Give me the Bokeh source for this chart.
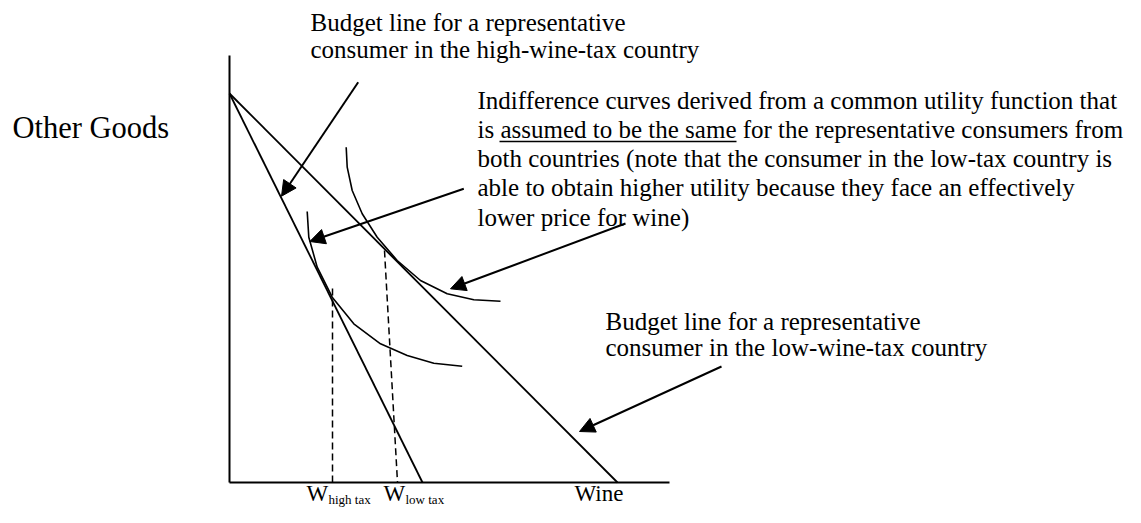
from bokeh.plotting import figure
from bokeh.models import Range1d, Arrow, NormalHead, ColumnDataSource
from bokeh.embed import file_html
from bokeh.resources import INLINE
from bokeh.core.properties import value

# ---- diagram data (units: wine on x, other goods on y; origin at the axes' corner)
goods_axis_top = 427
wine_axis_end = 440
budget_goods_intercept = 389
budget_wine_intercept_high_tax = 193
budget_wine_intercept_low_tax = 388

# indifference curve tangent to high-tax budget line
ic_low_wine = [77.7, 79.3, 87.7, 102.7, 124.3, 151.0, 177.7, 204.3, 232.7]
ic_low_goods = [271.0, 245.3, 215.3, 185.3, 158.7, 138.7, 127.0, 119.3, 116.3]
# indifference curve tangent to low-tax budget line
ic_high_wine = [116.7, 117.7, 122.7, 132.7, 147.7, 167.7, 191.0, 217.7, 244.3, 271.0]
ic_high_goods = [335.3, 315.3, 292.0, 268.7, 245.3, 222.0, 202.0, 188.7, 182.7, 181.3]

# dashed drop lines to the wine axis (top point, bottom point)
drop_x0 = [103, 155]
drop_y0 = [194, 232]
drop_x1 = [103, 168]
drop_y1 = [0, 0]

# arrows (start -> tip)
arrow_x0 = [128.7, 234.3, 396.0, 492.0]
arrow_y0 = [400.3, 293.7, 259.0, 116.0]
arrow_x1 = [52.0, 80.3, 221.0, 350.0]
arrow_y1 = [286.3, 241.0, 193.7, 51.0]

top_note = ["Budget line for a representative",
            "consumer in the high-wine-tax country"]
ic_note = ["Indifference curves derived from a common utility function that",
           "is assumed to be the same for the representative consumers from",
           "both countries (note that the consumer in the low-tax country is",
           "able to obtain higher utility because they face an effectively",
           "lower price for wine)"]
low_note = ["Budget line for a representative",
            "consumer in the low-wine-tax country"]
y_label = "Other Goods"
x_label = "Wine"
w_labels = ["W", "W"]
w_subs = ["high tax", "low tax"]

FONT = value("Liberation Serif")
MID = 0.3375  # distance from baseline to the em-box centre, in em

p = figure(width=1125, height=507, output_backend="svg", toolbar_location=None,
           x_range=Range1d(-229, 896), y_range=Range1d(-25, 482),
           x_axis_type=None, y_axis_type=None, min_border=0,
           background_fill_color="white", border_fill_color="white")
p.grid.visible = False
p.outline_line_color = None

# axes
p.line([0, 0], [0, goods_axis_top], line_color="black", line_width=2)
p.line([0, wine_axis_end], [0, 0], line_color="black", line_width=2)

# budget lines
p.line([0, budget_wine_intercept_high_tax], [budget_goods_intercept, 0],
       line_color="black", line_width=1.8)
p.line([0, budget_wine_intercept_low_tax], [budget_goods_intercept, 0],
       line_color="black", line_width=1.8)

# indifference curves
p.line(ic_low_wine, ic_low_goods, line_color="black", line_width=1.6)
p.line(ic_high_wine, ic_high_goods, line_color="black", line_width=1.6)

# dashed drop lines
p.segment(drop_x0, drop_y0, drop_x1, drop_y1, line_color="black",
          line_width=1.5, line_dash="7 4")

# arrows
asrc = ColumnDataSource(dict(x0=arrow_x0, y0=arrow_y0, x1=arrow_x1, y1=arrow_y1))
p.add_layout(Arrow(end=NormalHead(size=15, fill_color="black", line_color="black"),
                   x_start="x0", y_start="y0", x_end="x1", y_end="y1",
                   source=asrc, line_color="black", line_width=2))

def block(lines, x, base0, step, size):
    ys = [base0 - i * step + MID * size for i in range(len(lines))]
    p.text([x] * len(lines), ys, text=lines, text_font=FONT,
           text_font_size=f"{size}px", text_color="black",
           text_baseline="middle", text_align="left")

block(top_note, 81, 452, 27, 25)
block(ic_note, 248, 374, 29.25, 25)
block(low_note, 376, 153, 26, 25)
block([y_label], -217, 344, 0, 30.5)
block([x_label], 345, -19, 0, 23)

# W labels with subscripts
p.text([77, 154], [-19 + MID * 23] * 2, text=w_labels, text_font=FONT,
       text_font_size="23px", text_color="black", text_baseline="middle",
       text_align="left")
p.text([99, 176], [-21 + MID * 13] * 2, text=w_subs, text_font=FONT,
       text_font_size="13px", text_color="black", text_baseline="middle",
       text_align="left")

# underline of "assumed to be the same"
p.line([270, 507], [341, 341], line_color="black", line_width=1.5)

open("out.html", "w").write(file_html(p, INLINE))
